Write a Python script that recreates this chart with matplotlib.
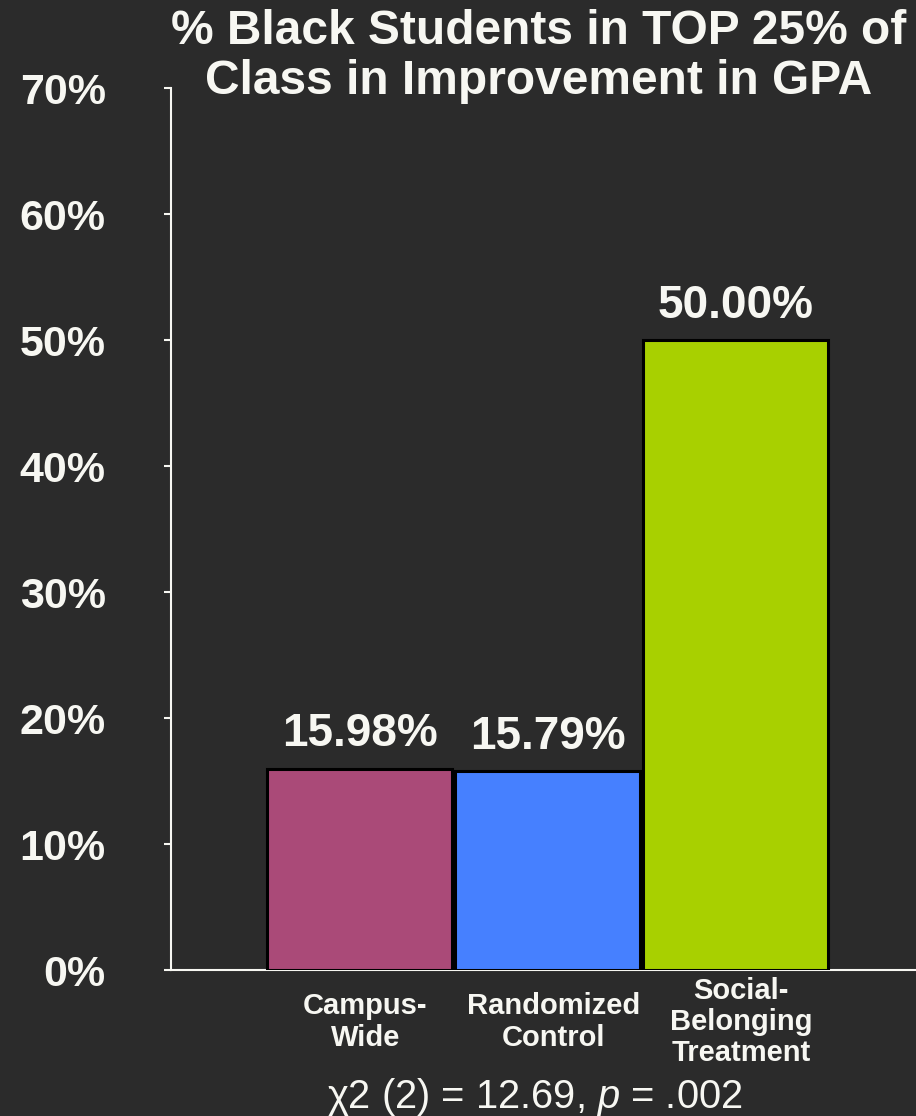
# % of Black students in top 25% of GPA improvement
import numpy as np
from matplotlib import pyplot as plt

plt.rcParams['font.family'] = ['Liberation Sans', 'DejaVu Sans']
plt.rcParams['mathtext.fontset'] = 'custom'
plt.rcParams['mathtext.it'] = 'Liberation Sans:italic'
plt.rcParams['mathtext.rm'] = 'Liberation Sans'

groups = ["Campus-\nWide", "Randomized\nControl", "Social-\nBelonging\nTreatment"]
values = [15.98, 15.79, 50.00]
colors = ['#AA4A78', '#4680FF', '#A8D000']
yticks = [0, 10, 20, 30, 40, 50, 60, 70]

bg = '#2b2b2b'
fg = '#f7f7f2'

fig = plt.figure(figsize=(9.16, 11.16), dpi=100, facecolor=bg)
ax = fig.add_axes([0.1867, 0.1308, 0.8133, 0.7903], facecolor=bg)

x = np.arange(len(values))
ax.bar(x, values, width=0.985, color=colors, edgecolor='black', linewidth=2.2, zorder=3)
ax.set_xlim(-1.005, 2.96)
ax.set_ylim(0, 70)

for xi, v in zip(x, values):
    ax.annotate(f"{v:.2f}%", (xi, v), xytext=(0, 16), textcoords='offset points',
                ha='center', va='baseline', fontsize=33, fontweight='bold', color=fg)

for xi, g in zip(x, groups):
    ax.text(xi + 0.03, -0.059, g, transform=ax.get_xaxis_transform(), ha='center', va='center',
            fontsize=21, fontweight='bold', color=fg, linespacing=1.15)

ax.set_yticks(yticks)
ax.set_yticklabels([f"{t}%" for t in yticks])
ax.set_xticks([])
ax.tick_params(axis='y', colors=fg, labelcolor=fg, length=5, width=1.5, pad=42, labelsize=31)
for lab in ax.get_yticklabels():
    lab.set_fontweight('bold')

for s in ['top', 'right']:
    ax.spines[s].set_visible(False)
for s in ['left', 'bottom']:
    ax.spines[s].set_color(fg)
    ax.spines[s].set_linewidth(1.5)

fig.text(0.588, 1 - 32 / 1116, "% Black Students in TOP 25% of", ha='center', va='center',
         fontsize=34.5, fontweight='bold', color=fg)
fig.text(0.588, 1 - 82 / 1116, "Class in Improvement in GPA", ha='center', va='center',
         fontsize=34.5, fontweight='bold', color=fg)

fig.text(0.584, 1 - 1097 / 1116, r"χ2 (2) = 12.69, $p$ = .002", ha='center', va='center',
         fontsize=28.7, color=fg)

plt.savefig('out.png', dpi=100, facecolor=bg)
